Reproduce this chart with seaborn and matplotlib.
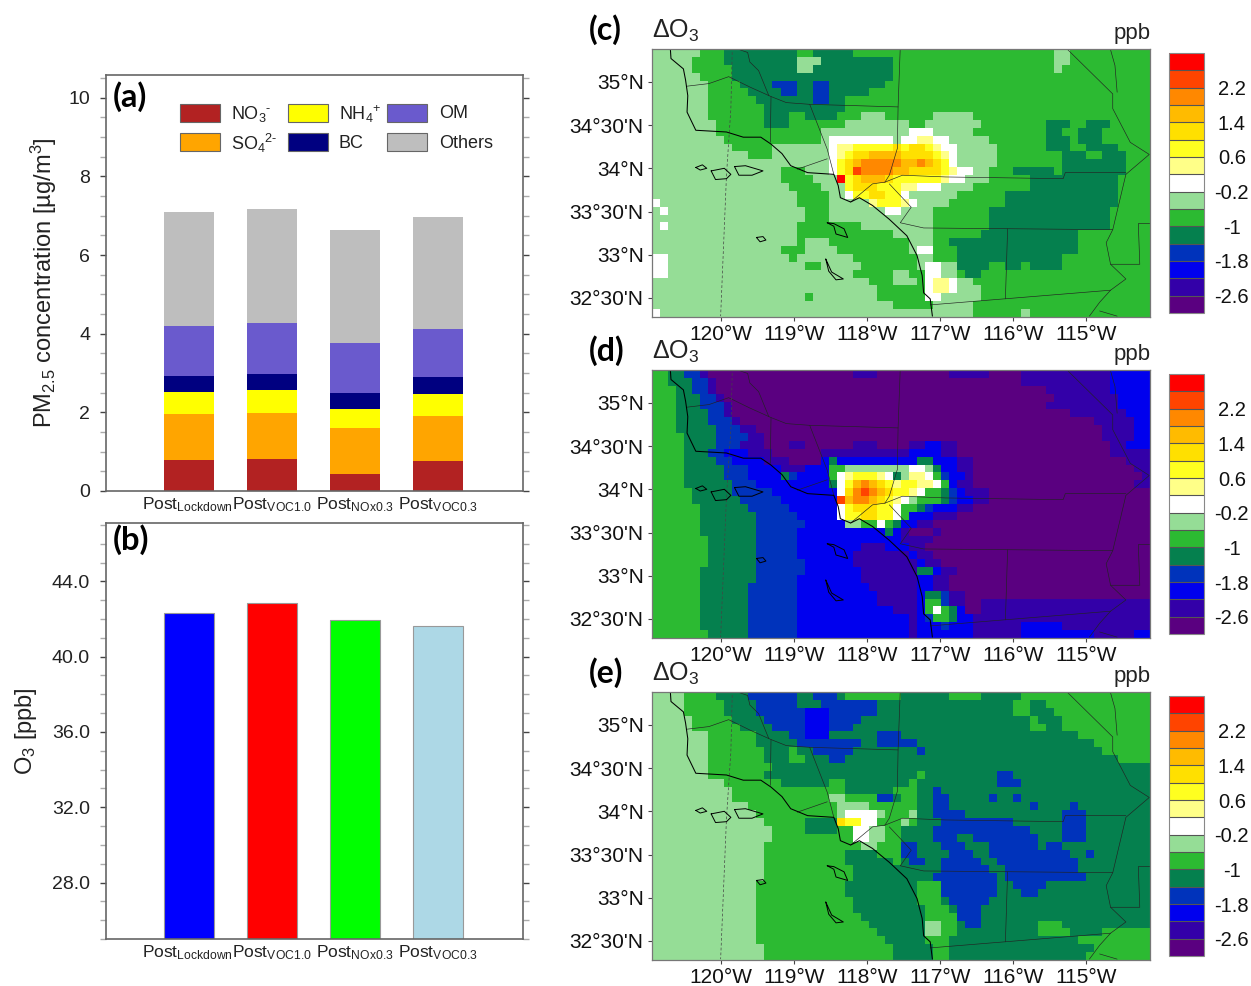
import numpy as np
import pandas as pd
import matplotlib
matplotlib.use('Agg')
import matplotlib.pyplot as plt
from matplotlib.colors import ListedColormap, BoundaryNorm
from matplotlib.patches import Rectangle
from matplotlib.ticker import MultipleLocator, FixedLocator, FormatStrFormatter
from matplotlib.transforms import ScaledTranslation
import seaborn as sns

# Bar panels
scenarios = ['Post$_{\\mathrm{Lockdown}}$', 'Post$_{\\mathrm{VOC1.0}}$', 'Post$_{\\mathrm{NOx0.3}}$', 'Post$_{\\mathrm{VOC0.3}}$']
species = ['NO$_3$$^{\\text{-}}$', 'SO$_4$$^{2\\text{-}}$', 'NH$_4$$^{+}$', 'BC', 'OM', 'Others']
species_colors = ['#b22222', '#ffa500', '#ffff00', '#000080', '#6a5acd', '#bebebe']
no3 = [0.78, 0.81, 0.43, 0.76]
so4 = [1.18, 1.17, 1.18, 1.14]
nh4 = [0.56, 0.59, 0.47, 0.56]
bc = [0.40, 0.40, 0.41, 0.43]
om = [1.27, 1.30, 1.28, 1.23]
others = [2.90, 2.90, 2.87, 2.84]
o3_mean = [42.3, 42.83, 41.93, 41.65]
o3_colors = ['#0000ff', '#ff0000', '#00ff00', '#add8e6']

# Colour levels of the maps, lowest first
level_codes = list('pibrdglwyYGAORX')
level_values = [-2.8, -2.4, -2.0, -1.6, -1.2, -0.8, -0.4, 0.0, 0.4, 0.8, 1.2, 1.6, 2.0, 2.4, 2.8]
level_colors = ['#5a0080', '#3300a8', '#0000ee', '#0033bb', '#05804e', '#2cba32', '#95dd96', '#ffffff',
                '#ffff88', '#ffff20', '#ffe000', '#ffbb00', '#ff8800', '#ff4400', '#ff0000']
level_edges = [-3.0, -2.6, -2.2, -1.8, -1.4, -1.0, -0.6, -0.2, 0.2, 0.6, 1.0, 1.4, 1.8, 2.2, 2.6, 3.0]
cbar_ticks = [-2.6, -1.8, -1.0, -0.2, 0.6, 1.4, 2.2]
cbar_labels = ['-2.6', '-1.8', '-1', '-0.2', '0.6', '1.4', '2.2']

lon_ticks = [-120, -119, -118, -117, -116, -115]
lon_labels = ['120°W', '119°W', '118°W', '117°W', '116°W', '115°W']
lat_ticks = [32.5, 33, 33.5, 34, 34.5, 35]
lat_labels = ["32°30'N", '33°N', "33°30'N", '34°N', "34°30'N", '35°N']

# Map cells, top row first, as colour code + run length
map_c = [
    'l6 g3 d9 g2 d5 g25 l2 g10',
    'l5 g4 d9 l3 d9 g20 l2 g10',
    'l5 g5 d8 l2 d10 g20 l1 g11',
    'l6 g4 d20 g32',
    'l7 g4 d4 r3 d2 r2 d7 g33',
    'l7 g5 d4 r2 d2 r2 d5 g35',
    'l7 g6 d7 r2 d2 g38',
    'l7 g7 d10 g38',
    'l7 g7 d3 g2 d4 g3 l3 g6 l5 g22',
    'l8 g6 d3 g7 l8 g2 l7 g8 d3 g2 d3 g5',
    'l8 g13 l11 w3 l5 g9 d2 g2 d3 g6',
    'l9 g12 l1 w8 l1 w2 y2 w2 l5 g7 d3 g1 d3 g6',
    'l10 g5 l7 w1 y2 Y5 G1 Y1 G2 Y1 y1 w2 l5 g6 d3 g2 d4 g4',
    'l12 g3 l7 w1 y1 Y1 G2 A4 G3 G1 Y1 y1 w1 l5 g8 d3 g2 d3 g3',
    'l22 w1 Y1 G1 A1 O5 A2 O1 A1 G1 Y1 w1 l5 g8 d8 g3',
    'l16 g3 l3 w1 Y1 G1 R1 O4 A2 G4 Y1 y1 w2 l2 g3 d5 g1 d8 g3',
    'l16 g4 l3 X1 Y1 G1 A3 G1 Y6 y1 w2 l3 g5 d11 g4',
    'l17 g4 l3 Y1 G3 Y3 y2 w3 l4 g7 d11 g4',
    'l18 g4 l2 w1 Y2 G2 Y2 w1 l6 g6 d14 g4',
    'w1 l17 g4 l5 y1 Y3 y1 w1 l4 g7 d14 g4',
    'l1 w1 l17 g3 l7 w2 l4 g7 d15 g5',
    'l19 g3 l13 g7 d15 g5',
    'l1 w1 l16 g8 l9 g7 d15 g5',
    'l18 g12 l5 g6 d12 g9',
    'l18 g1 l3 g10 l3 g2 d16 g9',
    'l16 g3 l4 g9 l1 w2 g3 d15 g9',
    'w2 l15 g1 l7 g8 l2 g3 d13 g11',
    'w2 l17 g2 l5 g7 l1 w2 l2 d4 g2 d2 g1 d4 g11',
    'w2 l23 g5 l2 g2 w2 l2 g1 d2 g21',
    'l27 g3 l3 g1 w1 y2 w1 l2 g22',
    'l28 g5 g1 w1 y2 w1 l3 g21',
    'l19 g1 l8 g6 w2 l5 g21',
    'l30 g5 l5 g22',
    'w1 l39 g6 l1 g15',
]
map_d = [
    'g2 d2 r2 i1 p18 i3 p9 i5 p4 i11 b5',
    'g2 d3 r2 i1 p38 i11 b5',
    'g3 d2 r2 i1 p41 i8 b5',
    'g3 d3 r2 i1 p41 i8 b4',
    'g3 d3 r3 i1 p39 i9 b4',
    'g3 d4 r2 i1 p42 i7 b3',
    'g3 d4 r3 i1 p44 i5 b2',
    'g3 d5 r3 i2 p43 i4 b2',
    'g4 d4 r4 i2 p42 i4 b2',
    'g4 d4 r3 i3 p3 i2 p6 i3 p4 i2 b2 i2 p19 i2 b3',
    'g4 d3 r2 b3 i3 p6 i11 b4 i2 p19 i5',
    'g4 d4 r2 b4 i3 p4 b1 d1 b10 d2 b3 i2 p19 i3',
    'g4 d5 r3 b4 i3 b3 g2 l8 w2 l1 d1 b2 i2 p20 i2',
    'g4 d5 r3 b4 d1 r1 b4 g1 w1 y1 Y3 y1 w1 d1 l1 y2 w1 g1 r1 b2 i1 p21 i1',
    'g4 d6 r3 b9 d1 w1 Y1 A1 O1 A1 G1 Y1 y1 Y2 y2 w1 g1 b1 i2 p20 i2',
    'g5 d5 r5 b8 w1 G1 O1 R1 O1 A1 G1 Y2 y1 w1 g2 d1 r1 b1 i3 p20',
    'g5 d6 r5 b7 R1 A1 O2 A1 G1 Y1 y1 w1 l1 g3 d1 r1 b2 i2 p20',
    'g6 d6 r5 b6 w1 Y1 G3 Y2 w1 g2 d1 r1 b3 i2 p22',
    'g6 d7 r5 b5 w1 Y2 G2 Y2 w1 g1 b3 i3 p24',
    'g6 d7 r6 b5 l2 g2 w1 g1 d1 b2 i2 p27',
    'g6 d7 r5 b11 d1 b1 i1 p3 i1 p26',
    'g7 d6 r5 b13 i4 p27',
    'g7 d6 r5 b8 i3 b3 i2 p28',
    'g7 d6 r5 b7 i7 b1 i2 p27',
    'g7 d6 r6 b6 i8 b1 i2 p26',
    'g6 d7 r6 b7 i7 d2 b1 i2 p24',
    'g6 d7 r5 b8 i7 b2 i2 p25',
    'g6 d6 r6 b9 i6 b2 i2 p25',
    'g6 d6 r6 b10 i5 b1 d2 r1 i2 p23',
    'g6 d6 r6 b10 i5 b1 g2 r1 i2 p2 i21',
    'g6 d6 r6 b12 i3 b1 g1 w1 g1 d1 b1 p2 i21',
    'g6 d6 r6 b14 i1 b1 r1 g2 d1 b2 i22',
    'g6 d6 r6 b14 i1 b3 r1 b3 i6 b5 i11',
    'g7 d5 r6 b14 i1 b7 i6 b9 i5 b2',
]
map_e = [
    'l4 g4 d4 r6 d2 r3 d1 g7 d6 g4 d5 g16',
    'l4 g5 d4 r5 d3 r7 d17 g2 d2 g13',
    'l4 g5 d4 r6 b3 r6 d17 g2 d3 g12',
    'l5 g5 d4 r5 b3 r4 d21 g1 d3 g11',
    'l5 g6 d4 r4 b3 r3 d22 g2 d2 g11',
    'l7 g6 d4 r2 b3 d6 r3 d22 g9',
    'l7 g6 d5 r8 d2 r5 d22 g7',
    'l7 g7 d3 g1 d2 r5 d8 r1 d22 g6',
    'l7 g7 d3 g2 d3 r2 d34 g4',
    'l7 g8 d47',
    'l7 g7 d19 g1 d9 r2 d17',
    'l9 g7 d6 g2 d8 g1 d10 r3 d16',
    'l10 g14 d6 g3 d2 r1 d26',
    'l10 g12 l2 g4 r2 d1 g2 d2 r2 d5 r1 d2 r1 d16',
    'l12 g11 l4 g6 d2 r2 d10 r1 d4 r1 d9',
    'l13 g10 l1 w4 l1 g3 l1 d2 r4 d12 r3 d8',
    'l14 g5 d4 G1 Y2 w2 g3 l1 g1 d3 r9 d6 r3 d8',
    'l15 g4 d4 g2 w2 l2 g2 d4 r12 d4 r3 d8',
    'l15 g9 g1 w2 l2 g1 g1 d4 r3 d2 r8 d3 r3 d8',
    'l14 g12 l2 g3 r2 d3 r3 d3 r6 d1 r2 d11',
    'l14 g10 d4 g3 r2 d4 r3 d2 r10 d2 r1 d7',
    'l14 g10 d6 g1 d1 r2 d2 r5 d2 r10 d9',
    'l14 g11 d11 r6 d2 r9 d9',
    'l14 g11 d10 r8 d1 r10 d8',
    'l13 g11 d9 g3 r7 d2 r4 d13',
    'l13 g11 d9 g3 r7 d3 r2 d14',
    'l13 g12 d8 g3 d1 r5 d20',
    'l13 g12 d9 g3 d1 r3 d21',
    'l13 g13 d8 g4 r3 d21',
    'l13 g14 d7 l2 g2 d1 r2 d7 g3 d11',
    'l13 g15 d6 l2 g2 d10 g4 d4 g6',
    'l13 g16 d5 g3 d16 g9',
    'l14 g16 d5 g2 d18 g7',
    'l14 g16 d5 g2 d17 g8',
]

# Coast, islands and county lines in lon / lat
coast_lon = [-120.69, -120.68, -120.51, -120.48, -120.45, -120.46, -120.34, -119.92, -119.69, -119.45, -119.31,
             -119.16, -119.04, -118.81, -118.45, -118.39, -118.36, -118.22, -118.10, -117.92, -117.69, -117.45,
             -117.31, -117.24, -117.22, -117.13, -117.10]
coast_lat = [35.40, 35.27, 35.15, 35.02, 34.84, 34.65, 34.44, 34.42, 34.36, 34.36, 34.28,
             34.17, 34.03, 33.95, 33.93, 33.80, 33.66, 33.61, 33.66, 33.57, 33.41, 33.22,
             32.99, 32.76, 32.56, 32.49, 32.29]
islands = [
    ([-120.34, -120.25, -120.19, -120.28, -120.34], [34.01, 34.04, 34.00, 33.98, 34.01]),
    ([-120.13, -119.95, -119.86, -119.92, -120.07, -120.13], [33.97, 34.00, 33.93, 33.88, 33.87, 33.97]),
    ([-119.81, -119.66, -119.42, -119.57, -119.75, -119.81], [34.02, 34.03, 33.97, 33.92, 33.92, 34.02]),
    ([-118.54, -118.45, -118.31, -118.26, -118.42, -118.45, -118.54], [33.37, 33.36, 33.30, 33.20, 33.24, 33.33, 33.37]),
    ([-119.51, -119.42, -119.38, -119.46, -119.51], [33.20, 33.21, 33.17, 33.15, 33.20]),
    ([-118.56, -118.48, -118.32, -118.42, -118.52, -118.56], [32.95, 32.80, 32.72, 32.71, 32.81, 32.95]),
]
county_lines = [
    ([-120.46, -120.16, -119.89, -119.60, -119.31, -119.10, -118.78, -117.57], [34.95, 34.98, 35.06, 34.94, 34.83, 34.76, 34.74, 34.71]),
    ([-119.84, -119.63, -119.60, -119.48, -119.34], [35.40, 35.34, 35.23, 35.13, 34.84]),
    ([-119.31, -119.32], [34.83, 34.30]),
    ([-118.78, -118.54, -118.45], [34.74, 34.22, 33.93]),
    ([-118.54, -118.95], [34.11, 33.99]),
    ([-117.54, -117.57, -117.58, -117.69, -117.75], [35.40, 34.71, 34.23, 33.92, 33.84]),
    ([-117.75, -117.51, -116.92, -115.31, -115.28, -114.45], [33.84, 33.92, 33.90, 33.88, 33.95, 33.95]),
    ([-118.22, -117.92, -117.75], [33.61, 33.82, 33.84]),
    ([-117.69, -117.39, -117.54, -117.22, -114.63], [33.82, 33.55, 33.37, 33.31, 33.29]),
    ([-116.07, -116.10], [33.30, 32.49]),
    ([-117.13, -114.66], [32.42, 32.59]),
    ([-115.28, -114.63, -114.63, -114.39, -114.13, -114.45, -114.54, -114.63, -114.72, -114.66, -114.45, -114.66, -114.81, -114.95],
     [35.40, 34.86, 34.69, 34.30, 34.16, 33.93, 33.61, 33.29, 33.14, 32.89, 32.72, 32.59, 32.45, 32.29]),
    ([-114.67, -114.60, -114.57], [35.40, 35.19, 34.88]),
    ([-114.08, -114.28, -114.26, -114.66], [33.36, 33.36, 32.89, 32.89]),
    ([-114.81, -114.57], [32.35, 32.29]),
]
border_lon = [-119.84, -119.86, -119.92, -120.00]
border_lat = [35.40, 34.69, 33.92, 32.29]

W, H = 1251, 986
sns.set_theme(style='ticks')
plt.rcParams['font.family'] = ['Liberation Sans', 'DejaVu Sans']
plt.rcParams['mathtext.fontset'] = 'custom'
plt.rcParams['mathtext.rm'] = 'Liberation Sans'
plt.rcParams['mathtext.it'] = 'Liberation Sans:italic'
plt.rcParams['mathtext.bf'] = 'Liberation Sans:bold'
plt.rcParams['axes.unicode_minus'] = False

fig = plt.figure(figsize=(W / 100, H / 100), dpi=100, facecolor='white')


def px_axes(left, top, right, bottom):
    return fig.add_axes([left / W, 1 - bottom / H, (right - left) / W, (bottom - top) / H])


def fig_text(x, y, s, **kw):
    fig.text(x / W, 1 - y / H, s, va='center', **kw)


def style_bar_axes(ax, major, minor):
    ax.yaxis.set_major_locator(MultipleLocator(major))
    ax.yaxis.set_minor_locator(MultipleLocator(minor))
    ax.tick_params(axis='y', which='major', left=True, right=True, direction='out', length=4.5, width=1,
                   color='#444444', labelsize=14, labelcolor='#222222', pad=7)
    ax.tick_params(axis='y', which='minor', left=True, right=True, direction='out', length=4.5, width=1, color='#aaaaaa')
    ax.tick_params(axis='x', length=0, labelsize=12.5, labelcolor='#222222', pad=3)
    ax.set_xlim(-1, 4.02)
    ax.set_xlabel('')
    # the first label runs up against the second one, as in the source figure
    first = ax.get_xticklabels()[0]
    first.set_transform(first.get_transform() + ScaledTranslation(-2 / 100, 0, fig.dpi_scale_trans))
    for sp in ax.spines.values():
        sp.set_visible(True)
        sp.set_color('#666666')
        sp.set_linewidth(1.2)


# (a) stacked bars, tallest layer drawn first
ax_a = px_axes(106, 75, 523, 491)
segments = [no3, so4, nh4, bc, om, others]
tops = np.cumsum(np.array(segments), axis=0)
for i in range(len(species) - 1, -1, -1):
    sns.barplot(x=scenarios, y=tops[i], color=species_colors[i], saturation=1, width=0.6, linewidth=0, ax=ax_a)
ax_a.set_ylim(0, 10.58)
style_bar_axes(ax_a, 2, 0.5)
ax_a.set_ylabel('PM$_{2.5}$ concentration [µg/m$^{3}$]', fontsize=17, color='#222222')
ax_a.yaxis.set_label_coords((59 - 106) / 417, 0.5)

# legend of (a), laid out by hand on a fixed grid
legend_x = [180, 180, 288, 288, 387, 387]
legend_y = [104, 133, 104, 133, 104, 133]
legend_text_x = [231, 231, 339, 339, 439, 439]
for i in range(len(species)):
    fig.add_artist(Rectangle((legend_x[i] / W, 1 - (legend_y[i] + 18) / H), 40 / W, 18 / H, transform=fig.transFigure,
                             facecolor=species_colors[i], edgecolor='#666666', linewidth=0.8))
    fig_text(legend_text_x[i], legend_y[i] + 10, species[i], fontsize=13, color='#222222')

# (b) O3 bars
ax_b = px_axes(106, 523, 523, 939)
o3_df = pd.DataFrame({'scenario': scenarios, 'o3': o3_mean})
sns.barplot(data=o3_df, x='scenario', y='o3', hue='scenario', palette=o3_colors, legend=False, saturation=1,
            width=0.6, edgecolor='#999999', linewidth=0.8, ax=ax_b)
ax_b.set_ylim(25, 47.1)
style_bar_axes(ax_b, 4, 1)
ax_b.yaxis.set_major_formatter(FormatStrFormatter('%.1f'))
ax_b.set_ylabel('O$_3$ [ppb]', fontsize=17, color='#222222')
ax_b.yaxis.set_label_coords((39 - 106) / 417, 0.5)

fig_text(113, 97, '(a)', fontsize=23.5, fontweight='bold', family='Lato', color='black')
fig_text(113, 540, '(b)', fontsize=23.5, fontweight='bold', family='Lato', color='black')

cmap = ListedColormap(level_colors)
norm = BoundaryNorm(level_edges, cmap.N)
code_to_value = dict(zip(level_codes, level_values))


def decode(rows):
    grid = []
    for row in rows:
        cells = []
        for token in row.split():
            cells += [code_to_value[token[0]]] * int(token[1:])
        grid.append(cells)
    return np.array(grid)


def draw_map(rows, top, bottom, letter):
    ax = px_axes(652, top, 1150, bottom)
    cax = px_axes(1169, top + 4, 1204, bottom - 4)
    sns.heatmap(decode(rows), cmap=cmap, norm=norm, ax=ax, cbar_ax=cax, xticklabels=False, yticklabels=False,
                cbar_kws={'boundaries': level_edges, 'ticks': cbar_ticks, 'drawedges': True})
    cb = ax.collections[0].colorbar
    cb.ax.yaxis.set_major_locator(FixedLocator(cbar_ticks))
    cb.set_ticklabels(cbar_labels)
    cb.minorticks_off()
    cb.ax.tick_params(length=0, pad=20, labelsize=14.5, labelcolor='#111111')
    for lab in cb.ax.get_yticklabels():
        lab.set_ha('center')
    cb.outline.set_edgecolor('#888888')
    cb.outline.set_linewidth(0.8)
    cb.dividers.set_color('#555555')
    cb.dividers.set_linewidth(0.8)

    geo = px_axes(652, top, 1150, bottom)
    geo.patch.set_alpha(0)
    for lon, lat in county_lines:
        geo.plot(lon, lat, color='#222222', lw=0.45)
    geo.plot(border_lon, border_lat, color='#444444', lw=0.5, ls=(0, (4, 3)))
    geo.plot(coast_lon, coast_lat, color='black', lw=0.75)
    for lon, lat in islands:
        geo.plot(lon, lat, color='black', lw=0.7)
    geo.set_xlim(-120.94, -114.12)
    geo.set_ylim(32.28, 35.38)
    geo.set_xticks(lon_ticks, lon_labels)
    geo.set_yticks(lat_ticks, lat_labels)
    geo.tick_params(direction='out', length=3, width=0.8, color='#444444', labelsize=15, labelcolor='#111111', pad=3)
    for sp in geo.spines.values():
        sp.set_visible(True)
        sp.set_color('#777777')
        sp.set_linewidth(0.9)

    fig_text(589, top - 19, letter, fontsize=23, fontweight='bold', family='Lato', color='black')
    fig_text(652, top - 18, 'ΔO$_3$', fontsize=18, color='#222222')
    fig_text(1151, top - 15.5, 'ppb', fontsize=16, color='#222222', ha='right')


draw_map(map_c, 49, 317, '(c)')
draw_map(map_d, 370, 638, '(d)')
draw_map(map_e, 692, 960, '(e)')

fig.savefig('out.png', dpi=100)
